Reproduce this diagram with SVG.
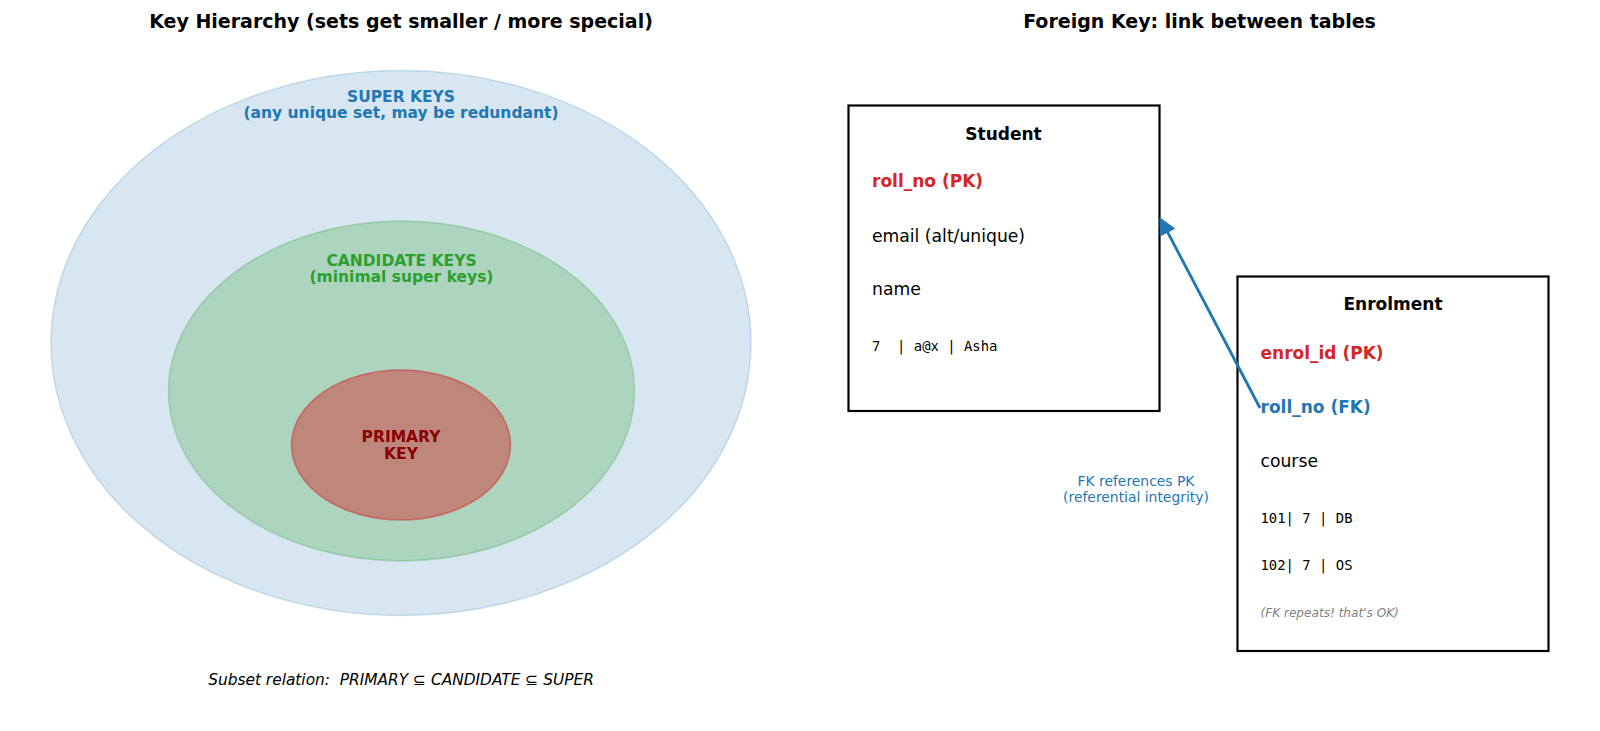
<svg xmlns="http://www.w3.org/2000/svg" width="1600" height="731" viewBox="0 0 1600 731">
<style>
text{font-family:"DejaVu Sans","Liberation Sans",sans-serif}
.title{font-size:19px;font-weight:bold;fill:#000;text-anchor:middle}
.lbl{font-size:15.5px;font-weight:bold;text-anchor:middle}
.tbl{fill:#fff;stroke:#000;stroke-width:2.2}
.th{font-size:17px;font-weight:bold;text-anchor:middle;fill:#000}
.pk{font-size:17px;font-weight:bold;fill:#d62728}
.fk{font-size:17px;font-weight:bold;fill:#1f77b4}
.attr{font-size:17.2px;fill:#000}
.mono{font-family:"DejaVu Sans Mono","Liberation Mono",monospace;font-size:13.9px;fill:#000}
</style>
<rect width="1600" height="731" fill="#fff"/>
<text class="title" x="401" y="28">Key Hierarchy (sets get smaller / more special)</text>
<text class="title" x="1199.5" y="28">Foreign Key: link between tables</text>
<g id="super-keys">
<ellipse cx="401" cy="343" rx="350" ry="272.5" fill="#1f77b4" fill-opacity="0.18" stroke="#1f77b4" stroke-opacity="0.2" stroke-width="1.5"/>
<text class="lbl" fill="#1f77b4" x="401" y="101.5">SUPER KEYS</text>
<text class="lbl" fill="#1f77b4" x="401" y="117.5">(any unique set, may be redundant)</text>
</g>
<g id="candidate-keys">
<ellipse cx="401.5" cy="391" rx="233" ry="170" fill="#2ca02c" fill-opacity="0.25" stroke="#2ca02c" stroke-opacity="0.25" stroke-width="1.5"/>
<text class="lbl" fill="#2ca02c" x="401.5" y="265.5">CANDIDATE KEYS</text>
<text class="lbl" fill="#2ca02c" x="401.5" y="281.5">(minimal super keys)</text>
</g>
<g id="primary-key">
<ellipse cx="401" cy="445" rx="109.5" ry="75" fill="#d62728" fill-opacity="0.45" stroke="#d62728" stroke-opacity="0.5" stroke-width="1.5"/>
<text class="lbl" fill="#8b0000" x="401" y="442">PRIMARY</text>
<text class="lbl" fill="#8b0000" x="401" y="459">KEY</text>
</g>
<text x="401" y="685" font-size="15.4px" font-style="italic" text-anchor="middle" fill="#000" xml:space="preserve">Subset relation:  PRIMARY ⊆ CANDIDATE ⊆ SUPER</text>
<g id="student">
<rect class="tbl" x="848.5" y="105.5" width="311" height="305.5"/>
<text class="th" x="1003.5" y="139.5">Student</text>
<text class="pk" x="872" y="187">roll_no (PK)</text>
<text class="attr" x="872" y="242">email (alt/unique)</text>
<text class="attr" x="872" y="295">name</text>
<text class="mono" x="872" y="351" xml:space="preserve">7  | a@x | Asha</text>
</g>
<g id="enrolment">
<rect class="tbl" x="1237.5" y="276.5" width="311" height="374.5"/>
<text class="th" x="1393" y="310">Enrolment</text>
<text class="pk" x="1260.5" y="358.5">enrol_id (PK)</text>
<text class="fk" x="1260.5" y="412.5">roll_no (FK)</text>
<text class="attr" x="1260.5" y="467">course</text>
<text class="mono" x="1260.5" y="522.5" xml:space="preserve">101| 7 | DB</text>
<text class="mono" x="1260.5" y="570" xml:space="preserve">102| 7 | OS</text>
<text x="1260.5" y="616.5" font-size="12.1px" font-style="italic" fill="#808080">(FK repeats! that's OK)</text>
</g>
<g id="connectors">
<line x1="1260" y1="408" x2="1167" y2="231" stroke="#1f77b4" stroke-width="2.8"/>
<polygon points="1160,218 1174.6,228.5 1160.4,235.9" fill="#1f77b4" stroke="#1f77b4" stroke-width="1" stroke-linejoin="round"/>
<text x="1136" y="486" font-size="13.9px" fill="#1f77b4" text-anchor="middle">FK references PK</text>
<text x="1136" y="501.5" font-size="13.9px" fill="#1f77b4" text-anchor="middle">(referential integrity)</text>
</g>
</svg>
